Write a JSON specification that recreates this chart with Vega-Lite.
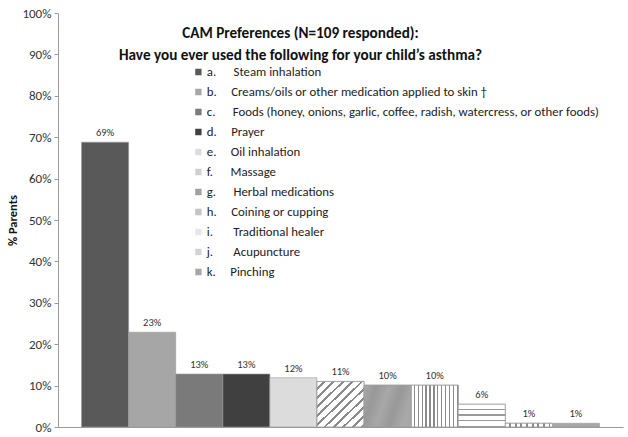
{
  "$schema": "https://vega.github.io/schema/vega-lite/v6.json",
  "width": 565,
  "height": 414,
  "autosize": "none",
  "padding": {"left": 58, "top": 13, "right": 5, "bottom": 10},
  "background": "white",
  "title": {
    "text": ["CAM Preferences (N=109 responded):", "Have you ever used the following for your child\u2019s asthma?"],
    "anchor": "middle",
    "dx": -40,
    "offset": -56,
    "baseline": "top",
    "fontSize": 15.2,
    "fontWeight": "bold",
    "lineHeight": 22,
    "color": "#111111",
    "font": "Carlito, Lato"
  },
  "data": {
    "values": [
      {"item": "a", "share": 0.688, "key": "a.\u00a0\u00a0\u00a0\u00a0\u00a0\u00a0Steam inhalation"},
      {"item": "b", "share": 0.229, "key": "b.\u00a0\u00a0\u00a0\u00a0\u00a0Creams/oils or other medication applied to skin \u2020"},
      {"item": "c", "share": 0.128, "key": "c.\u00a0\u00a0\u00a0\u00a0\u00a0\u00a0Foods (honey, onions, garlic, coffee, radish, watercress, or other foods)"},
      {"item": "d", "share": 0.128, "key": "d.\u00a0\u00a0\u00a0\u00a0\u00a0Prayer"},
      {"item": "e", "share": 0.119, "key": "e.\u00a0\u00a0\u00a0\u00a0\u00a0Oil inhalation"},
      {"item": "f", "share": 0.110, "key": "f.\u00a0\u00a0\u00a0\u00a0\u00a0\u00a0Massage"},
      {"item": "g", "share": 0.101, "key": "g.\u00a0\u00a0\u00a0\u00a0\u00a0\u00a0Herbal medications"},
      {"item": "h", "share": 0.101, "key": "h.\u00a0\u00a0\u00a0\u00a0\u00a0Coining or cupping"},
      {"item": "i", "share": 0.055, "key": "i.\u00a0\u00a0\u00a0\u00a0\u00a0\u00a0\u00a0Traditional healer"},
      {"item": "j", "share": 0.009, "key": "j.\u00a0\u00a0\u00a0\u00a0\u00a0\u00a0\u00a0Acupuncture"},
      {"item": "k", "share": 0.009, "key": "k.\u00a0\u00a0\u00a0\u00a0\u00a0Pinching"}
    ]
  },
  "encoding": {
    "x": {
      "field": "item",
      "type": "nominal",
      "sort": null,
      "scale": {"paddingInner": 0, "paddingOuter": 0.5},
      "axis": {"labels": false, "ticks": false, "title": null, "domainColor": "#9a9a9a", "domainWidth": 1}
    },
    "y": {
      "field": "share",
      "type": "quantitative",
      "scale": {"domain": [0, 1], "nice": false},
      "axis": {
        "values": [0, 0.1, 0.2, 0.3, 0.4, 0.5, 0.6, 0.7, 0.8, 0.9, 1],
        "format": ".0%",
        "grid": false,
        "domainColor": "#9a9a9a",
        "tickColor": "#9a9a9a",
        "tickSize": 4,
        "labelFontSize": 13,
        "labelColor": "#333333",
        "labelPadding": 3,
        "labelFont": "Carlito, Lato",
        "title": "% Parents",
        "titleFont": "Carlito, Lato",
        "titleFontSize": 12.5,
        "titleFontWeight": "bold",
        "titleColor": "#111111",
        "titlePadding": 2
      }
    }
  },
  "layer": [
    {
      "mark": {"type": "bar", "stroke": "#9a9a9a", "strokeWidth": 0.6},
      "encoding": {
        "color": {
          "field": "key",
          "type": "nominal",
          "scale": {"range": ["#595959", "#a6a6a6", "#7a7a7a", "#404040", "#dcdcdc", "#d0d0d0", "#a0a0a0", "#c4c4c4", "#e8e8e8", "#d4d4d4", "#a8a8a8"]},
          "legend": {
            "title": null,
            "orient": "none",
            "legendX": 134,
            "legendY": 52,
            "symbolType": "square",
            "symbolSize": 40,
            "symbolStrokeWidth": 0,
            "labelFontSize": 12.8,
            "labelFont": "Carlito, Lato",
            "labelColor": "#222222",
            "labelOffset": 2,
            "labelLimit": 500,
            "rowPadding": 6,
            "clipHeight": 14
          }
        }
      }
    },
    {
      "transform": [{"filter": "datum.item == 'f'"}],
      "mark": {
        "type": "bar",
        "stroke": "#9a9a9a",
        "strokeWidth": 0.8,
        "fill": {
          "gradient": "linear", "x1": 0, "y1": 0, "x2": 1, "y2": 1,
          "stops": [
            {"offset": 0, "color": "#ffffff"}, {"offset": 0.065, "color": "#ffffff"}, {"offset": 0.065, "color": "#8a8a8a"}, {"offset": 0.095, "color": "#8a8a8a"}, {"offset": 0.095, "color": "#ffffff"},
            {"offset": 0.165, "color": "#ffffff"}, {"offset": 0.165, "color": "#8a8a8a"}, {"offset": 0.195, "color": "#8a8a8a"}, {"offset": 0.195, "color": "#ffffff"},
            {"offset": 0.265, "color": "#ffffff"}, {"offset": 0.265, "color": "#8a8a8a"}, {"offset": 0.295, "color": "#8a8a8a"}, {"offset": 0.295, "color": "#ffffff"},
            {"offset": 0.365, "color": "#ffffff"}, {"offset": 0.365, "color": "#8a8a8a"}, {"offset": 0.395, "color": "#8a8a8a"}, {"offset": 0.395, "color": "#ffffff"},
            {"offset": 0.465, "color": "#ffffff"}, {"offset": 0.465, "color": "#8a8a8a"}, {"offset": 0.495, "color": "#8a8a8a"}, {"offset": 0.495, "color": "#ffffff"},
            {"offset": 0.565, "color": "#ffffff"}, {"offset": 0.565, "color": "#8a8a8a"}, {"offset": 0.595, "color": "#8a8a8a"}, {"offset": 0.595, "color": "#ffffff"},
            {"offset": 0.665, "color": "#ffffff"}, {"offset": 0.665, "color": "#8a8a8a"}, {"offset": 0.695, "color": "#8a8a8a"}, {"offset": 0.695, "color": "#ffffff"},
            {"offset": 0.765, "color": "#ffffff"}, {"offset": 0.765, "color": "#8a8a8a"}, {"offset": 0.795, "color": "#8a8a8a"}, {"offset": 0.795, "color": "#ffffff"},
            {"offset": 0.865, "color": "#ffffff"}, {"offset": 0.865, "color": "#8a8a8a"}, {"offset": 0.895, "color": "#8a8a8a"}, {"offset": 0.895, "color": "#ffffff"},
            {"offset": 0.965, "color": "#ffffff"}, {"offset": 0.965, "color": "#8a8a8a"}, {"offset": 0.995, "color": "#8a8a8a"}, {"offset": 0.995, "color": "#ffffff"}, {"offset": 1, "color": "#ffffff"}
          ]
        }
      }
    },
    {
      "transform": [{"filter": "datum.item == 'h'"}],
      "mark": {
        "type": "bar",
        "stroke": "#9a9a9a",
        "strokeWidth": 0.8,
        "fill": {
          "gradient": "linear", "x1": 0, "y1": 0, "x2": 1, "y2": 0,
          "stops": [
            {"offset": 0, "color": "#ffffff"}, {"offset": 0.055, "color": "#ffffff"}, {"offset": 0.055, "color": "#8a8a8a"}, {"offset": 0.083, "color": "#8a8a8a"}, {"offset": 0.083, "color": "#ffffff"},
            {"offset": 0.138, "color": "#ffffff"}, {"offset": 0.138, "color": "#8a8a8a"}, {"offset": 0.166, "color": "#8a8a8a"}, {"offset": 0.166, "color": "#ffffff"},
            {"offset": 0.221, "color": "#ffffff"}, {"offset": 0.221, "color": "#8a8a8a"}, {"offset": 0.249, "color": "#8a8a8a"}, {"offset": 0.249, "color": "#ffffff"},
            {"offset": 0.304, "color": "#ffffff"}, {"offset": 0.304, "color": "#8a8a8a"}, {"offset": 0.332, "color": "#8a8a8a"}, {"offset": 0.332, "color": "#ffffff"},
            {"offset": 0.387, "color": "#ffffff"}, {"offset": 0.387, "color": "#8a8a8a"}, {"offset": 0.415, "color": "#8a8a8a"}, {"offset": 0.415, "color": "#ffffff"},
            {"offset": 0.470, "color": "#ffffff"}, {"offset": 0.470, "color": "#8a8a8a"}, {"offset": 0.498, "color": "#8a8a8a"}, {"offset": 0.498, "color": "#ffffff"},
            {"offset": 0.553, "color": "#ffffff"}, {"offset": 0.553, "color": "#8a8a8a"}, {"offset": 0.581, "color": "#8a8a8a"}, {"offset": 0.581, "color": "#ffffff"},
            {"offset": 0.636, "color": "#ffffff"}, {"offset": 0.636, "color": "#8a8a8a"}, {"offset": 0.664, "color": "#8a8a8a"}, {"offset": 0.664, "color": "#ffffff"},
            {"offset": 0.719, "color": "#ffffff"}, {"offset": 0.719, "color": "#8a8a8a"}, {"offset": 0.747, "color": "#8a8a8a"}, {"offset": 0.747, "color": "#ffffff"},
            {"offset": 0.802, "color": "#ffffff"}, {"offset": 0.802, "color": "#8a8a8a"}, {"offset": 0.830, "color": "#8a8a8a"}, {"offset": 0.830, "color": "#ffffff"},
            {"offset": 0.885, "color": "#ffffff"}, {"offset": 0.885, "color": "#8a8a8a"}, {"offset": 0.913, "color": "#8a8a8a"}, {"offset": 0.913, "color": "#ffffff"},
            {"offset": 0.968, "color": "#ffffff"}, {"offset": 0.968, "color": "#8a8a8a"}, {"offset": 1, "color": "#8a8a8a"}
          ]
        }
      }
    },
    {
      "transform": [{"filter": "datum.item == 'i'"}],
      "mark": {
        "type": "bar",
        "stroke": "#9a9a9a",
        "strokeWidth": 0.8,
        "fill": {
          "gradient": "linear", "x1": 0, "y1": 0, "x2": 0, "y2": 1,
          "stops": [
            {"offset": 0, "color": "#ffffff"}, {"offset": 0.2, "color": "#ffffff"}, {"offset": 0.2, "color": "#9a9a9a"}, {"offset": 0.25, "color": "#9a9a9a"}, {"offset": 0.25, "color": "#ffffff"},
            {"offset": 0.45, "color": "#ffffff"}, {"offset": 0.45, "color": "#9a9a9a"}, {"offset": 0.5, "color": "#9a9a9a"}, {"offset": 0.5, "color": "#ffffff"},
            {"offset": 0.7, "color": "#ffffff"}, {"offset": 0.7, "color": "#9a9a9a"}, {"offset": 0.75, "color": "#9a9a9a"}, {"offset": 0.75, "color": "#ffffff"},
            {"offset": 0.95, "color": "#ffffff"}, {"offset": 0.95, "color": "#9a9a9a"}, {"offset": 1, "color": "#9a9a9a"}
          ]
        }
      }
    },
    {
      "transform": [{"filter": "datum.item == 'j'"}],
      "mark": {
        "type": "bar",
        "stroke": "#9a9a9a",
        "strokeWidth": 0.8,
        "fill": {
          "gradient": "linear", "x1": 0, "y1": 0, "x2": 1, "y2": 0,
          "stops": [
            {"offset": 0, "color": "#ffffff"}, {"offset": 0.08, "color": "#ffffff"}, {"offset": 0.08, "color": "#8a8a8a"}, {"offset": 0.12, "color": "#8a8a8a"}, {"offset": 0.12, "color": "#ffffff"},
            {"offset": 0.2, "color": "#ffffff"}, {"offset": 0.2, "color": "#8a8a8a"}, {"offset": 0.24, "color": "#8a8a8a"}, {"offset": 0.24, "color": "#ffffff"},
            {"offset": 0.32, "color": "#ffffff"}, {"offset": 0.32, "color": "#8a8a8a"}, {"offset": 0.36, "color": "#8a8a8a"}, {"offset": 0.36, "color": "#ffffff"},
            {"offset": 0.44, "color": "#ffffff"}, {"offset": 0.44, "color": "#8a8a8a"}, {"offset": 0.48, "color": "#8a8a8a"}, {"offset": 0.48, "color": "#ffffff"},
            {"offset": 0.56, "color": "#ffffff"}, {"offset": 0.56, "color": "#8a8a8a"}, {"offset": 0.6, "color": "#8a8a8a"}, {"offset": 0.6, "color": "#ffffff"},
            {"offset": 0.68, "color": "#ffffff"}, {"offset": 0.68, "color": "#8a8a8a"}, {"offset": 0.72, "color": "#8a8a8a"}, {"offset": 0.72, "color": "#ffffff"},
            {"offset": 0.8, "color": "#ffffff"}, {"offset": 0.8, "color": "#8a8a8a"}, {"offset": 0.84, "color": "#8a8a8a"}, {"offset": 0.84, "color": "#ffffff"},
            {"offset": 0.92, "color": "#ffffff"}, {"offset": 0.92, "color": "#8a8a8a"}, {"offset": 0.96, "color": "#8a8a8a"}, {"offset": 0.96, "color": "#ffffff"}, {"offset": 1, "color": "#ffffff"}
          ]
        }
      }
    },
    {
      "transform": [{"filter": "datum.item == 'g'"}],
      "mark": {
        "type": "bar",
        "stroke": "#9a9a9a",
        "strokeWidth": 0.8,
        "fill": {
          "gradient": "linear", "x1": 0, "y1": 0, "x2": 1, "y2": 0.3,
          "stops": [
            {"offset": 0, "color": "#a8a8a8"}, {"offset": 0.25, "color": "#989898"}, {"offset": 0.5, "color": "#a8a8a8"}, {"offset": 0.75, "color": "#989898"}, {"offset": 1, "color": "#a8a8a8"}
          ]
        }
      }
    },
    {
      "mark": {"type": "text", "dy": -9, "fontSize": 10.5, "font": "Carlito, Lato", "color": "#333333"},
      "encoding": {"text": {"field": "share", "type": "quantitative", "format": ".0%"}}
    }
  ],
  "config": {
    "view": {"stroke": null},
    "font": "Carlito, Lato"
  }
}
